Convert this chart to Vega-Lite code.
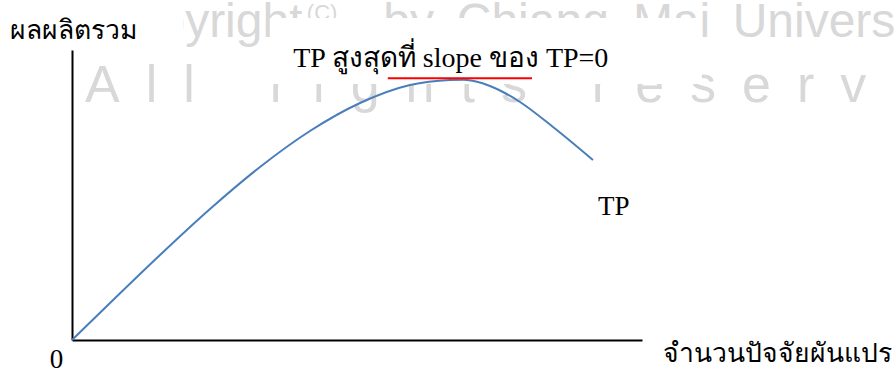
{
  "$schema": "https://vega.github.io/schema/vega-lite/v6.json",
  "width": 570,
  "height": 290,
  "autosize": {"type": "none"},
  "padding": {"left": 72, "top": 50, "right": 252, "bottom": 31},
  "background": "white",
  "config": {
    "view": {"stroke": null},
    "axis": {"domainColor": "#000000", "domainWidth": 2, "ticks": false, "labels": false, "grid": false}
  },
  "datasets": {
    "tp": [
      {"input": 0, "output": 0},
      {"input": 6.67, "output": 12.76},
      {"input": 15.44, "output": 29.31},
      {"input": 24.21, "output": 45.17},
      {"input": 32.98, "output": 59.66},
      {"input": 41.75, "output": 72.07},
      {"input": 50.53, "output": 81.72},
      {"input": 59.3, "output": 87.93},
      {"input": 66.32, "output": 89.66},
      {"input": 68.77, "output": 89.76},
      {"input": 70.88, "output": 89.14},
      {"input": 73.33, "output": 87.59},
      {"input": 75.61, "output": 85.52},
      {"input": 78.6, "output": 82.07},
      {"input": 84.39, "output": 73.45},
      {"input": 91.4, "output": 62.07}
    ],
    "watermarkTop": [
      {"text": "Copyright", "x": 4.4, "y": 104.5},
      {"text": "by", "x": 54.6, "y": 104.5},
      {"text": "Chiang", "x": 67.5, "y": 104.5},
      {"text": "Mai", "x": 98.4, "y": 104.5},
      {"text": "University", "x": 115.9, "y": 104.5}
    ],
    "watermarkBottom": [
      {"text": "A\u2002l\u2002l", "x": 2.3, "y": 82.1},
      {"text": "r\u2002i\u2002g\u2002h\u2002t\u2002s", "x": 34.7, "y": 82.1},
      {"text": "r\u2002e\u2002s\u2002e\u2002r\u2002v\u2002e\u2002d", "x": 91.2, "y": 82.1}
    ],
    "copymark": [
      {"text": "(C)", "x": 41.2, "y": 110.5}
    ],
    "boxes": [
      {"x": -12.6, "x2": 19.5, "y": 117.2, "y2": 100.7},
      {"x": 34.7, "x2": 110.5, "y": 111.0, "y2": 88.3}
    ],
    "underline": [
      {"x": 55.4, "x2": 80.7, "y": 90.3}
    ],
    "title": [
      {"text": "TP สูงสุดที่ slope ของ TP=0", "x": 38.8, "y": 94.1}
    ],
    "curveLabel": [
      {"text": "TP", "x": 92.3, "y": 43.1}
    ],
    "origin": [
      {"text": "0", "x": -2.7, "y": -9.7}
    ],
    "thai": [
      {"text": "ผลผลิตรวม", "x": -10.9, "y": 103.8},
      {"text": "จำนวนปัจจัยผันแปร", "x": 103.7, "y": -7.6}
    ]
  },
  "layer": [
    {
      "data": {"name": "watermarkTop"},
      "mark": {"type": "text", "font": "Liberation Sans", "fontSize": 48, "color": "#d8d8d8", "align": "left", "baseline": "alphabetic"},
      "encoding": {
        "x": {"field": "x", "type": "quantitative", "scale": {"domain": [0, 100], "nice": false, "zero": false}, "title": null},
        "y": {"field": "y", "type": "quantitative", "scale": {"domain": [0, 100], "nice": false, "zero": false}, "title": null},
        "text": {"field": "text"}
      }
    },
    {
      "data": {"name": "watermarkBottom"},
      "mark": {"type": "text", "font": "Liberation Sans", "fontSize": 52, "color": "#d8d8d8", "align": "left", "baseline": "alphabetic"},
      "encoding": {
        "x": {"field": "x", "type": "quantitative", "title": null},
        "y": {"field": "y", "type": "quantitative", "title": null},
        "text": {"field": "text"}
      }
    },
    {
      "data": {"name": "copymark"},
      "mark": {"type": "text", "font": "Liberation Sans", "fontSize": 22, "color": "#d8d8d8", "align": "left", "baseline": "alphabetic"},
      "encoding": {
        "x": {"field": "x", "type": "quantitative", "title": null},
        "y": {"field": "y", "type": "quantitative", "title": null},
        "text": {"field": "text"}
      }
    },
    {
      "data": {"name": "boxes"},
      "mark": {"type": "rect", "color": "white"},
      "encoding": {
        "x": {"field": "x", "type": "quantitative", "title": null},
        "x2": {"field": "x2"},
        "y": {"field": "y", "type": "quantitative", "title": null},
        "y2": {"field": "y2"}
      }
    },
    {
      "data": {"name": "tp"},
      "mark": {"type": "line", "interpolate": "monotone", "color": "#4a7ebb", "strokeWidth": 2},
      "encoding": {
        "x": {"field": "input", "type": "quantitative", "title": null},
        "y": {"field": "output", "type": "quantitative", "title": null}
      }
    },
    {
      "data": {"name": "underline"},
      "mark": {"type": "rule", "color": "#ff0000", "strokeWidth": 2},
      "encoding": {
        "x": {"field": "x", "type": "quantitative", "title": null},
        "x2": {"field": "x2"},
        "y": {"field": "y", "type": "quantitative", "title": null}
      }
    },
    {
      "data": {"name": "title"},
      "mark": {"type": "text", "font": "Liberation Serif, serif", "fontSize": 28, "color": "black", "align": "left", "baseline": "alphabetic"},
      "encoding": {
        "x": {"field": "x", "type": "quantitative", "title": null},
        "y": {"field": "y", "type": "quantitative", "title": null},
        "text": {"field": "text"}
      }
    },
    {
      "data": {"name": "curveLabel"},
      "mark": {"type": "text", "font": "Liberation Serif", "fontSize": 27, "color": "black", "align": "left", "baseline": "alphabetic"},
      "encoding": {
        "x": {"field": "x", "type": "quantitative", "title": null},
        "y": {"field": "y", "type": "quantitative", "title": null},
        "text": {"field": "text"}
      }
    },
    {
      "data": {"name": "origin"},
      "mark": {"type": "text", "font": "Liberation Serif", "fontSize": 27, "color": "black", "align": "center", "baseline": "alphabetic"},
      "encoding": {
        "x": {"field": "x", "type": "quantitative", "title": null},
        "y": {"field": "y", "type": "quantitative", "title": null},
        "text": {"field": "text"}
      }
    },
    {
      "data": {"name": "thai"},
      "mark": {"type": "text", "font": "Liberation Serif, serif", "fontSize": 26.5, "color": "black", "align": "left", "baseline": "alphabetic"},
      "encoding": {
        "x": {"field": "x", "type": "quantitative", "title": null},
        "y": {"field": "y", "type": "quantitative", "title": null},
        "text": {"field": "text"}
      }
    }
  ]
}
